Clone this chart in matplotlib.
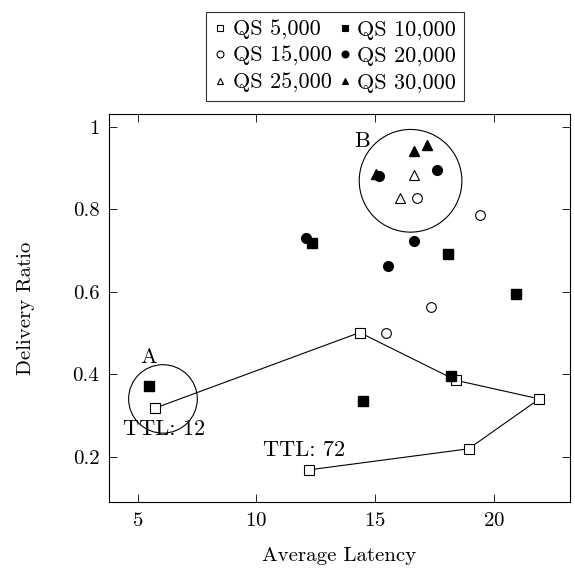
import matplotlib
matplotlib.use("Agg")
import matplotlib.pyplot as plt
from matplotlib.patches import Ellipse
from matplotlib.lines import Line2D

plt.rcParams['font.family'] = 'serif'
plt.rcParams['font.serif'] = ['cmr10']
plt.rcParams['mathtext.fontset'] = 'cm'
plt.rcParams['axes.formatter.use_mathtext'] = True

# QS 5,000 (TTL 12 -> 72, connected)
qs5_x = [5.75, 14.35, 18.41, 21.91, 18.93, 12.22]
qs5_y = [0.318, 0.501, 0.385, 0.340, 0.219, 0.168]
# QS 10,000
qs10_x = [5.48, 14.47, 18.21, 20.91, 18.05, 12.33]
qs10_y = [0.372, 0.336, 0.396, 0.595, 0.691, 0.717]
# QS 15,000
qs15_x = [15.45, 17.33, 19.41, 16.77]
qs15_y = [0.501, 0.563, 0.785, 0.828]
# QS 20,000
qs20_x = [12.11, 15.55, 16.63, 15.15, 17.62]
qs20_y = [0.731, 0.663, 0.724, 0.881, 0.896]
# QS 25,000
qs25_x = [16.04, 16.63]
qs25_y = [0.827, 0.883]
# QS 30,000
qs30_x = [15.05, 16.63, 17.17]
qs30_y = [0.885, 0.941, 0.956]

series = ['QS 5,000', 'QS 10,000', 'QS 15,000', 'QS 20,000', 'QS 25,000', 'QS 30,000']

fig = plt.figure(figsize=(5.75, 5.70), dpi=100)
ax = fig.add_axes([0.1896, 0.1193, 0.8017, 0.6807])

ms = 7
ax.plot(qs5_x, qs5_y, '-', color='k', lw=0.8, marker='s', ms=ms,
        mfc='white', mec='k', mew=0.8)
ax.plot(qs10_x, qs10_y, 's', color='k', ms=ms)
ax.plot(qs15_x, qs15_y, 'o', ms=ms, mfc='white', mec='k', mew=0.8)
ax.plot(qs30_x, qs30_y, '^', color='k', ms=ms, zorder=2)
ax.plot(qs20_x, qs20_y, 'o', color='k', ms=ms, zorder=3)
ax.plot(qs25_x, qs25_y, '^', ms=ms, mfc='white', mec='k', mew=0.8)

# highlight circles
ax.add_patch(Ellipse((6.07, 0.340), 2.89, 0.166, fill=False, ec='k', lw=0.8))
ax.add_patch(Ellipse((16.49, 0.869), 4.32, 0.249, fill=False, ec='k', lw=0.8))
ax.text(5.48, 0.442, 'A', ha='center', va='center', fontsize=16)
ax.text(14.45, 0.965, 'B', ha='center', va='center', fontsize=16)
ax.text(6.1, 0.267, 'TTL: 12', ha='center', va='center', fontsize=16)
ax.text(12.0, 0.215, 'TTL: 72', ha='center', va='center', fontsize=16)

ax.set_xlim(3.8, 23.2)
ax.set_ylim(0.09, 1.031)
ax.set_xticks([5, 10, 15, 20])
ax.set_yticks([0.2, 0.4, 0.6, 0.8, 1.0])
ax.set_yticklabels(['0.2', '0.4', '0.6', '0.8', '1'])
ax.tick_params(direction='in', top=True, right=True, labelsize=15, length=6, width=0.6, pad=7)
for s in ax.spines.values():
    s.set_linewidth(0.8)
ax.set_xlabel('Average Latency', fontsize=15, va='center')
ax.set_ylabel('Delivery Ratio', fontsize=15, va='center')
ax.xaxis.set_label_coords(0.5, -0.139)
ax.yaxis.set_label_coords(-0.181, 0.5)

# legend: filled / open markers, arranged 2 per row
mk = ['s', 's', 'o', 'o', '^', '^']
fc = ['white', 'k', 'white', 'k', 'white', 'k']
leg_h = [Line2D([], [], ls='none', marker=m, mfc=f, mec='k', mew=0.8, ms=5)
         for m, f in zip(mk, fc)]
idx = [0, 2, 4, 1, 3, 5]
leg = ax.legend([leg_h[i] for i in idx], [series[i] for i in idx], ncol=2,
                loc='lower center', bbox_to_anchor=(0.49, 1.034), borderaxespad=0,
                fontsize=16, frameon=True, fancybox=False, edgecolor='k',
                handlelength=0.6, handletextpad=0.25, columnspacing=0.3,
                labelspacing=0.3, borderpad=0.35)
leg.get_frame().set_linewidth(0.8)

fig.savefig('out.png', dpi=100)
